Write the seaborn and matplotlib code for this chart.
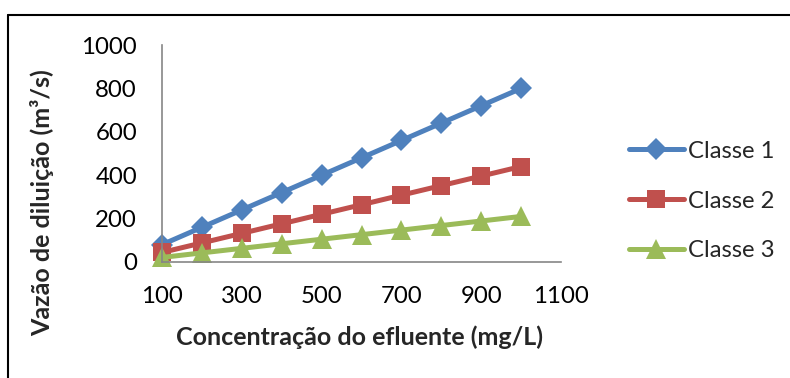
import matplotlib
matplotlib.use("Agg")
import matplotlib.pyplot as plt
from matplotlib.lines import Line2D
import seaborn as sns
import pandas as pd

concentracao = [100, 200, 300, 400, 500, 600, 700, 800, 900, 1000]
classe1 = [80, 160, 240, 320, 400, 480, 560, 640, 720, 800]
classe2 = [44, 88, 132, 176, 220, 264, 308, 352, 396, 440]
classe3 = [21, 42, 63, 84, 105, 126, 147, 168, 189, 210]
series_names = ["Classe 1", "Classe 2", "Classe 3"]
x_ticks = [100, 300, 500, 700, 900, 1100]
y_ticks = [0, 200, 400, 600, 800, 1000]

df = pd.concat([
    pd.DataFrame({"x": concentracao, "y": vals, "Classe": name})
    for name, vals in zip(series_names, [classe1, classe2, classe3])
])

sns.set_style("white")
plt.rcParams["font.family"] = ["Lato", "DejaVu Sans"]

W, H = 790, 378
fig = plt.figure(figsize=(W / 100, H / 100), dpi=100)
ax = fig.add_axes([162 / W, 1 - 262 / H, (561 - 162) / W, (262 - 45) / H])

palette = {"Classe 1": "#4F81BD", "Classe 2": "#C0504D", "Classe 3": "#9BBB59"}
markers = {"Classe 1": "D", "Classe 2": "s", "Classe 3": "^"}
msizes = {"D": 11.5, "s": 13.5, "^": 15}
sns.lineplot(data=df, x="x", y="y", hue="Classe", style="Classe",
             palette=palette, markers=markers, dashes=False,
             linewidth=3.6, markersize=13, markeredgewidth=0, ax=ax, legend=False)
for ln in ax.lines:
    ln.set_clip_on(False)
    m = ln.get_marker()
    if m in msizes:
        ln.set_markersize(msizes[m])

ax.set_xlim(100, 1100)
ax.set_ylim(0, 1000)
ax.set_xticks(x_ticks)
ax.set_yticks(y_ticks)
ax.tick_params(axis="both", length=0, labelsize=17.3, colors="black")
ax.tick_params(axis="y", pad=18)
ax.tick_params(axis="x", pad=17)
for s in ["top", "right"]:
    ax.spines[s].set_visible(False)
for s in ["left", "bottom"]:
    ax.spines[s].set_color("#868686")
    ax.spines[s].set_linewidth(1.2)

ax.set_xlabel("Concentração do efluente (mg/L)", fontsize=18, fontweight="bold")
ax.set_ylabel("Vazão de diluição (m³/s)", fontsize=18, fontweight="bold")
ax.xaxis.set_label_coords((360 - 162) / 399, (262 - 337) / 217)
ax.yaxis.set_label_coords((42 - 162) / 399, (262 - 203) / 217)
ax.xaxis.label.set_va("center")
ax.yaxis.label.set_va("center")

handles = [Line2D([], [], color=palette[n], marker=markers[n], lw=3.6,
                  markersize=msizes[markers[n]], markeredgewidth=0)
           for n in series_names]
fig.legend(handles, series_names, loc="center left",
           bbox_to_anchor=(629 / W, 1 - 201 / H), frameon=False, fontsize=17.2,
           handlelength=2.3, handletextpad=0.15, labelspacing=1.2, borderpad=0,
           borderaxespad=0)

fig.add_artist(Line2D([8 / W, 1], [1 - 15 / H, 1 - 15 / H], transform=fig.transFigure,
                      color="black", lw=1.5))
fig.add_artist(Line2D([8 / W, 8 / W], [0, 1 - 15 / H], transform=fig.transFigure,
                      color="black", lw=1.5))

fig.savefig("out.png", dpi=100)
